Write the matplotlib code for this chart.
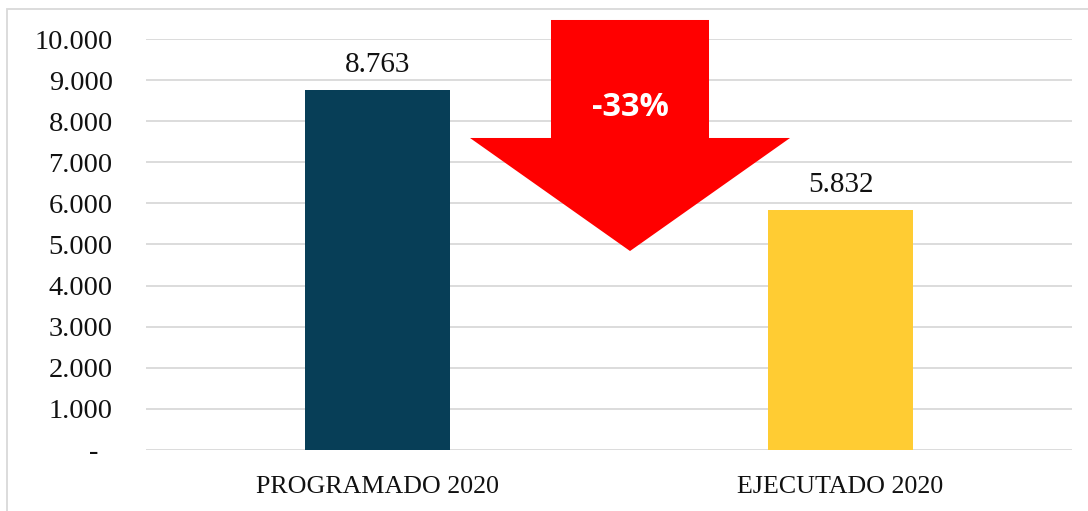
import matplotlib.pyplot as plt
from matplotlib.patches import Polygon, Rectangle
from matplotlib.ticker import FuncFormatter

categories = ['PROGRAMADO 2020', 'EJECUTADO 2020']
values = [8763, 5832]
bar_colors = ['#073E57', '#FFCC33']
y_ticks = list(range(0, 10001, 1000))

change = round((values[1] / values[0] - 1) * 100)


def miles(v, _pos=None):
    if v == 0:
        return '-  '  # accounting style dash, sits left of the digits
    return f'{int(v):,}'.replace(',', '.')


plt.rcParams['font.family'] = ['Liberation Serif', 'DejaVu Serif']

fig = plt.figure(figsize=(10.88, 5.11), dpi=100)
ax = fig.add_axes([146 / 1088, 1 - 449.5 / 511, 926 / 1088, 410 / 511])

# frame around the chart (only top and left visible in the crop)
fig.patches.append(Rectangle((7 / 1088, -0.1), 1.2, 1.1 - 9 / 511, transform=fig.transFigure,
                             fill=False, edgecolor='#D9D9D9', linewidth=1.3))

x = range(len(categories))
bars = ax.bar(x, values, width=0.315, color=bar_colors, zorder=3)
for b, v in zip(bars, values):
    ax.annotate(miles(v), (b.get_x() + b.get_width() / 2, v), xytext=(0, 9), textcoords='offset points',
                ha='center', va='bottom', fontsize=21, color='#111111')

ax.set_xlim(-0.5, 1.5)
ax.set_ylim(0, 10000)
ax.set_yticks(y_ticks)
ax.yaxis.set_major_formatter(FuncFormatter(miles))
ax.set_xticks(list(x))
ax.set_xticklabels(categories)
ax.tick_params(axis='y', length=0, pad=24, labelsize=20.5, labelcolor='#111111')
ax.tick_params(axis='x', length=0, pad=19, labelsize=18.7, labelcolor='#111111')
ax.grid(axis='y', color='#D9D9D9', linewidth=1.3, zorder=0)
for s in ax.spines.values():
    s.set_visible(False)

# down arrow between the bars
cx = 0.5454
arrow = Polygon([(0.3747, 10476), (0.716, 10476), (0.716, 7598), (0.891, 7598),
                 (cx, 4841), (0.1998, 7598), (0.3747, 7598)],
                closed=True, facecolor='#FF0000', edgecolor='none', zorder=4, clip_on=False)
ax.add_patch(arrow)
ax.text(cx, 8330, f'{change}%', ha='center', va='center', color='white', fontsize=23.5,
        fontweight='bold', family=['Open Sans', 'DejaVu Sans'], zorder=5)

fig.savefig('out.png', dpi=100)
